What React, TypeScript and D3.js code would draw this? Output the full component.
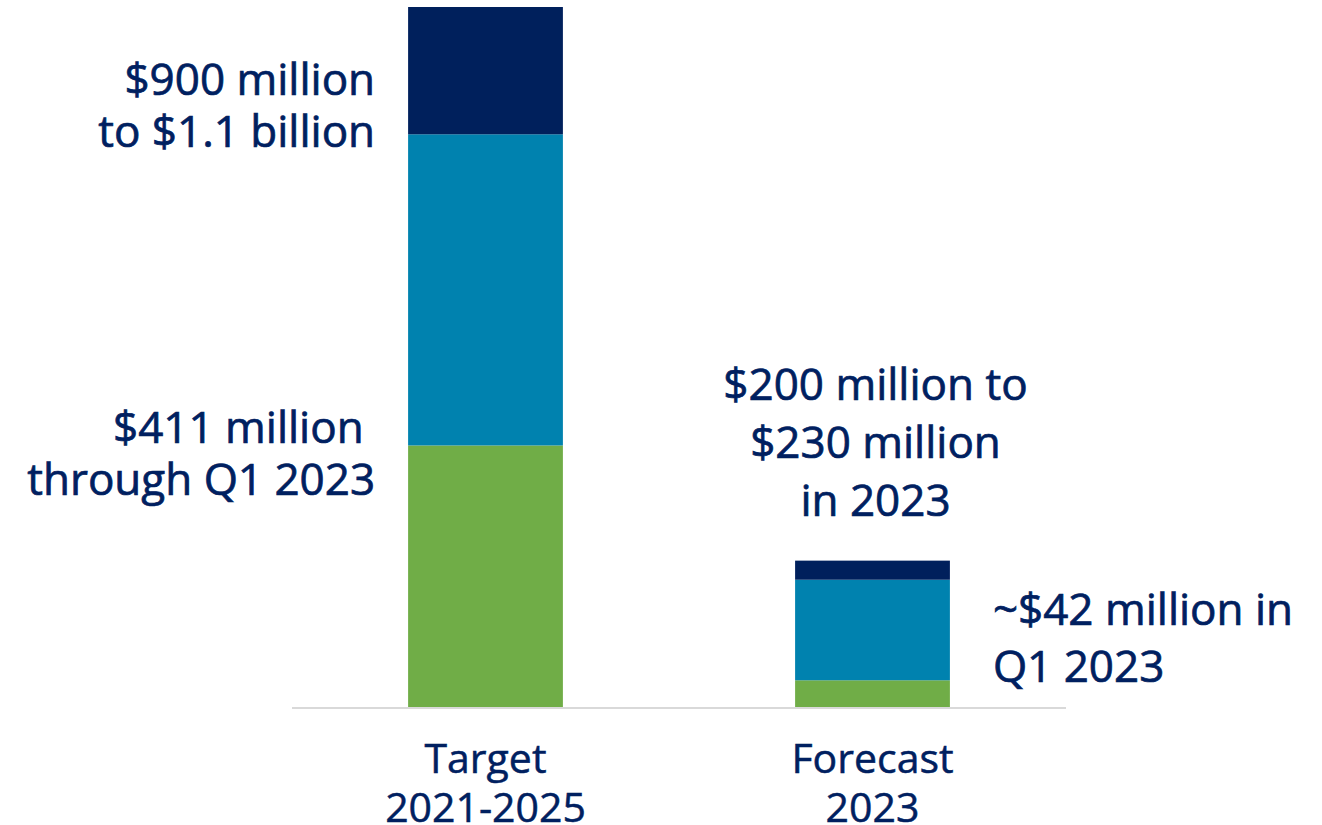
import React from "react";
import * as d3 from "d3";

const categories = ["Target|2021-2025", "Forecast|2023"];
const seriesKeys = ["achieved", "remaining", "range"];
const achieved = [411, 42];
const remaining = [489, 158];
const range = [200, 30];
const colors = ["#70AD47", "#0082AF", "#00205C"];

const leftTop = ["$900 million", "to $1.1 billion"];
const leftBottom = ["$411 million ", "through Q1 2023"];
const rightTop = ["$200 million to", "$230 million", "in 2023"];
const rightBottom = ["~$42 million in", "Q1 2023"];

const W = 1322;
const H = 825;
const FONT = "'Open Sans', sans-serif";
const TEXT = "#002060";

export default function App() {
  const rows = categories.map((c, i) => ({
    cat: c,
    achieved: achieved[i],
    remaining: remaining[i],
    range: range[i],
  }));
  const stack = d3.stack<any>().keys(seriesKeys)(rows);
  const x = d3
    .scaleBand()
    .domain(categories)
    .range([292, 1066])
    .paddingInner(0.6)
    .paddingOuter(0.3);
  const y = d3.scaleLinear().domain([0, 1100]).range([707, 7]);
  const bw = x.bandwidth();
  const fs = 44;

  const x1 = x(categories[0])!;
  const x2 = x(categories[1])!;

  const lines = (arr: string[], xx: number, y0: number, anchor: string, lh: number) =>
    arr.map((t, i) => (
      <text
        key={i}
        x={xx}
        y={y0 + i * lh}
        textAnchor={anchor as any}
        style={{ whiteSpace: "pre" }}
      >
        {t}
      </text>
    ));

  return (
    <svg
      width={W}
      height={H}
      style={{ position: "absolute", left: 0, top: 0 }}
    >
      <rect width={W} height={H} fill="#fff" />
      {stack.map((s, si) =>
        s.map((d, i) => (
          <rect
            key={si + "-" + i}
            x={x(categories[i])}
            y={y(d[1])}
            width={bw}
            height={y(d[0]) - y(d[1])}
            fill={colors[si]}
          />
        ))
      )}
      <line x1={292} x2={1066} y1={y(0) + 1} y2={y(0) + 1} stroke="#d9d9d9" strokeWidth={2} />
      <g fill={TEXT} stroke={TEXT} strokeWidth={0.7} fontFamily={FONT} fontSize={fs}>
        {lines(leftTop, x1 - 33, y(1000) + 24, "end", 52)}
        {lines(leftBottom, x1 - 33, y(411) - 2, "end", 52)}
        {lines(rightTop, x2 + bw / 2 + 3, y(230) - 161, "middle", 58)}
        {lines(rightBottom, x2 + bw + 43, y(230) + 64, "start", 57)}
      </g>
      <g fill={TEXT} stroke={TEXT} strokeWidth={0.5} fontFamily={FONT} fontSize={41}>
        {categories.map((c, i) =>
          c.split("|").map((t, j) => (
            <text
              key={i + "-" + j}
              x={x(c)! + bw / 2}
              y={y(0) + 66 + j * 49}
              textAnchor="middle"
            >
              {t}
            </text>
          ))
        )}
      </g>
    </svg>
  );
}
